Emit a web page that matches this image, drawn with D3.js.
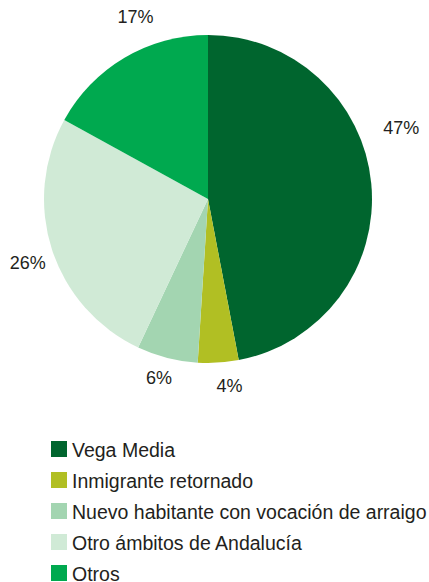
<!DOCTYPE html>
<html>
<head>
<meta charset="utf-8">
<script src="https://cdn.jsdelivr.net/npm/d3@7"></script>
<style>
  body { margin: 0; background: #fff; }
  text { font-family: "Liberation Sans", Arial, sans-serif; fill: #231f20; }
</style>
</head>
<body>
<div id="chart"></div>
<script>
"use strict";

// data
var categories = ["Vega Media", "Inmigrante retornado", "Nuevo habitante con vocación de arraigo", "Otro ámbitos de Andalucía", "Otros"];
var values = [47, 4, 6, 26, 17];
var colors = ["#00652e", "#b1bf23", "#a3d5b1", "#d0ead6", "#00a94f"];

// labels were dragged a bit in the original: angle nudge (deg) and radial nudge (px)
var labelShift = [-15, -3, 1, -1.5, 9];
var labelPush = [10, 3, -2, -5, 7];

var width = 429, height = 582,
    cx = 208, cy = 199, radius = 164;

var svg = d3.select("#chart").append("svg")
    .attr("width", width)
    .attr("height", height);

var pie = d3.pie().sort(null).value(function (d) { return d; });
var arcs = pie(values);
var arc = d3.arc().innerRadius(0).outerRadius(radius);

var g = svg.append("g")
    .attr("transform", "translate(" + cx + "," + cy + ")");

g.selectAll("path")
    .data(arcs)
    .enter().append("path")
    .attr("d", arc)
    .attr("fill", function (d, i) { return colors[i]; });

// percentage labels outside
g.selectAll(".lbl")
    .data(arcs)
    .enter().append("text")
    .attr("class", "lbl")
    .attr("font-size", "18px")
    .attr("text-anchor", "middle")
    .attr("dy", "0.36em")
    .text(function (d) { return d.data + "%"; })
    .each(function (d, i) {
        var a = (d.startAngle + d.endAngle) / 2 + labelShift[i] * Math.PI / 180;
        var w = this.getComputedTextLength(), h = 13;
        var ext = w / 2 * Math.abs(Math.sin(a)) + h / 2 * Math.abs(Math.cos(a));
        var r = radius + 13 + ext + labelPush[i];
        d3.select(this)
            .attr("x", r * Math.sin(a))
            .attr("y", -r * Math.cos(a));
    });

// legend
var legend = svg.append("g")
    .attr("transform", "translate(51,441)");

var item = legend.selectAll("g")
    .data(categories)
    .enter().append("g")
    .attr("transform", function (d, i) { return "translate(0," + (i * 31) + ")"; });

item.append("rect")
    .attr("width", 16)
    .attr("height", 16)
    .attr("fill", function (d, i) { return colors[i]; });

item.append("text")
    .attr("x", 21)
    .attr("y", 16)
    .attr("font-size", "19.5px")
    .text(function (d) { return d; });
</script>
</body>
</html>
